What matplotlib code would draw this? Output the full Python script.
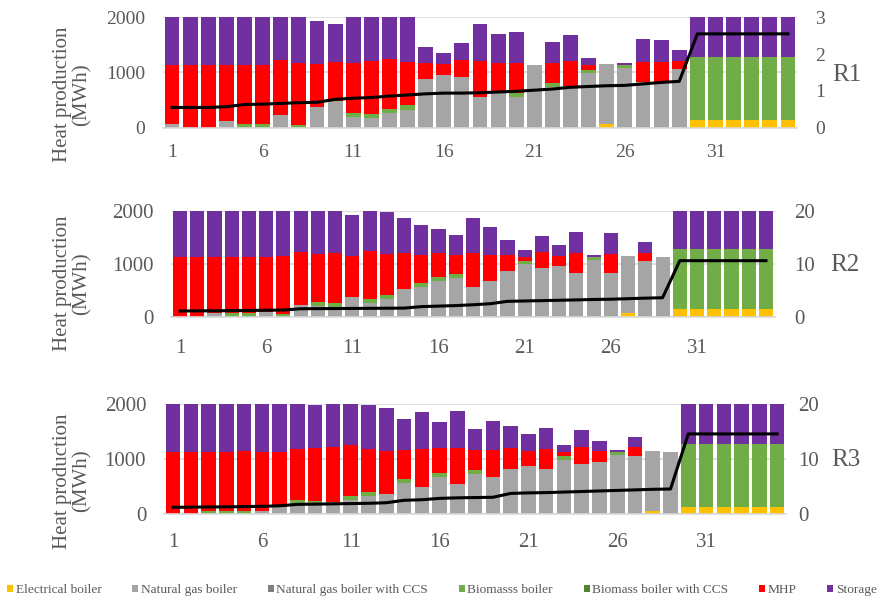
import matplotlib
matplotlib.use("Agg")
import matplotlib.pyplot as plt
from matplotlib.patches import Patch
import numpy as np

days = list(range(1, 36))
xtick_labels = [1, 6, 11, 16, 21, 26, 31]

# ---------------- R1 ----------------
r1_elec = [0]*24 + [60] + [0]*4 + [140]*6
r1_ng = [60, 0, 0, 120, 0, 0, 230, 0, 370, 490, 190, 170, 260, 320, 875, 960, 920, 565, 665, 565,
         1135, 745, 710, 1000, 1090, 1090, 835, 835, 1065, 0, 0, 0, 0, 0, 0]
r1_ngccs = [0]*35
r1_bio = [0, 0, 0, 0, 60, 60, 0, 50, 0, 0, 70, 80, 80, 85, 0, 0, 0, 0, 0, 60,
          0, 60, 50, 50, 0, 45, 0, 0, 0, 1135, 1135, 1135, 1135, 1135, 1135]
r1_bioccs = [0]*35
r1_mhp = [1080, 1130, 1135, 1015, 1075, 1075, 995, 1120, 780, 700, 920, 950, 910, 780, 295, 190, 300, 635, 505, 545,
          0, 365, 440, 85, 0, 0, 355, 355, 150, 0, 0, 0, 0, 0, 0]
r1_storage = [860, 870, 865, 865, 865, 865, 775, 830, 790, 680, 820, 800, 750, 815, 290, 195, 315, 680, 525, 565,
              0, 375, 475, 120, 0, 35, 410, 395, 195, 725, 725, 725, 725, 725, 725]
r1_line = [0.55, 0.55, 0.55, 0.57, 0.63, 0.64, 0.66, 0.68, 0.69, 0.77, 0.80, 0.82, 0.86, 0.89, 0.92, 0.94, 0.94, 0.95,
           0.97, 0.99, 1.02, 1.05, 1.10, 1.12, 1.14, 1.15, 1.19, 1.23, 1.26, 2.55, 2.55, 2.55, 2.55, 2.55, 2.55]

# ---------------- R2 ----------------
r2_elec = [0]*26 + [65] + [0]*2 + [140]*6
r2_ng = [0, 0, 75, 0, 0, 95, 0, 220, 200, 190, 365, 265, 335, 515, 565, 680, 735, 565, 680, 870,
         995, 910, 955, 820, 1070, 830, 1080, 1055, 1130, 0, 0, 0, 0, 0, 0]
r2_ngccs = [0]*35
r2_bio = [0, 0, 0, 65, 65, 0, 50, 0, 70, 60, 0, 75, 75, 0, 75, 75, 65, 0, 0, 0,
          55, 0, 0, 0, 60, 0, 0, 0, 0, 1140, 1140, 1140, 1140, 1140, 1140]
r2_bioccs = [0]*35
r2_mhp = [1130, 1130, 1055, 1060, 1060, 1035, 1100, 1005, 905, 945, 785, 905, 765, 680, 520, 440, 355, 630, 485, 290,
          80, 310, 195, 375, 0, 345, 0, 155, 0, 0, 0, 0, 0, 0, 0]
r2_storage = [870, 870, 870, 875, 875, 870, 850, 775, 825, 805, 775, 755, 800, 665, 565, 465, 390, 675, 535, 295,
              125, 310, 195, 400, 30, 395, 0, 195, 0, 720, 720, 720, 720, 720, 720]
r2_line = [1.07, 1.10, 1.12, 1.15, 1.18, 1.22, 1.26, 1.50, 1.52, 1.54, 1.56, 1.58, 1.60, 1.62, 1.90, 2.00, 2.10, 2.25,
           2.45, 2.90, 2.97, 3.03, 3.10, 3.17, 3.25, 3.30, 3.40, 3.50, 3.58, 10.57, 10.57, 10.57, 10.57, 10.57, 10.57]

# ---------------- R3 ----------------
r3_elec = [0]*27 + [50] + [0] + [130]*6
r3_ng = [0, 0, 0, 0, 0, 60, 120, 195, 180, 215, 255, 330, 365, 560, 500, 675, 545, 730, 680, 815,
         870, 825, 985, 905, 955, 1070, 1060, 1095, 1125, 0, 0, 0, 0, 0, 0]
r3_ngccs = [0]*35
r3_bio = [0, 0, 60, 60, 55, 0, 0, 60, 55, 0, 80, 65, 0, 80, 0, 80, 0, 70, 0, 0,
          0, 0, 65, 0, 0, 55, 0, 0, 0, 1140, 1140, 1140, 1140, 1140, 1140]
r3_bioccs = [0]*35
r3_mhp = [1125, 1135, 1065, 1065, 1100, 1075, 1015, 925, 960, 1015, 915, 785, 785, 530, 685, 445, 660, 360, 485, 385,
          285, 360, 80, 310, 195, 0, 155, 0, 0, 0, 0, 0, 0, 0, 0]
r3_storage = [875, 865, 875, 875, 845, 865, 865, 820, 800, 770, 750, 810, 790, 560, 680, 470, 675, 390, 530, 400,
              300, 390, 120, 315, 190, 40, 195, 0, 0, 730, 730, 730, 730, 730, 730]
r3_line = [1.22, 1.25, 1.28, 1.30, 1.35, 1.40, 1.50, 1.76, 1.80, 1.85, 1.90, 1.95, 2.05, 2.50, 2.60, 2.85, 2.95, 3.00,
           3.05, 3.75, 3.85, 3.90, 4.00, 4.10, 4.20, 4.30, 4.40, 4.50, 4.56, 14.6, 14.6, 14.6, 14.6, 14.6, 14.6]

series_names = ["Electrical boiler", "Natural gas boiler", "Natural gas boiler with CCS",
                "Biomasss boiler", "Biomass boiler with CCS", "MHP", "Storage"]
colors = ["#FFC000", "#A5A5A5", "#7F7F7F", "#70AD47", "#548235", "#FF0000", "#7030A0"]

panels = [
    dict(series=[r1_elec, r1_ng, r1_ngccs, r1_bio, r1_bioccs, r1_mhp, r1_storage], line=r1_line,
         rmax=3, rticks=[0, 1, 2, 3], name="R1", px=(163, 797, 17.3, 127.7), fs=14, rlab=(847, 75),
         lpad=13, rpad=13, xpad=12),
    dict(series=[r2_elec, r2_ng, r2_ngccs, r2_bio, r2_bioccs, r2_mhp, r2_storage], line=r2_line,
         rmax=20, rticks=[0, 10, 20], name="R2", px=(171.4, 774.6, 210.7, 316.7), fs=15, rlab=(845, 265),
         lpad=13, rpad=14, xpad=16),
    dict(series=[r3_elec, r3_ng, r3_ngccs, r3_bio, r3_bioccs, r3_mhp, r3_storage], line=r3_line,
         rmax=20, rticks=[0, 10, 20], name="R3", px=(164.2, 786, 404.3, 514), fs=15, rlab=(846, 460),
         lpad=13, rpad=9, xpad=14),
]

W, H = 885, 602
plt.rcParams['font.family'] = ['Liberation Serif', 'DejaVu Serif']
tc = "#595959"
fig = plt.figure(figsize=(W/100, H/100), dpi=100)

for p in panels:
    x0, x1, ytop, ybot = p["px"]
    ax = fig.add_axes([x0/W, 1-ybot/H, (x1-x0)/W, (ybot-ytop)/H])
    bottom = np.zeros(35)
    for vals, c in zip(p["series"], colors):
        v = np.array(vals, dtype=float)
        ax.bar(days, v, bottom=bottom, width=0.82, color=c, linewidth=0, zorder=2)
        bottom += v
    ax.set_xlim(0.5, 35.5)
    ax.set_ylim(0, 2000)
    ax.set_yticks([0, 1000, 2000])
    ax.set_xticks(xtick_labels)
    ax.set_xticklabels([str(t) for t in xtick_labels])
    ax.grid(axis='y', color="#D9D9D9", linewidth=1.2, zorder=0)
    ax.set_axisbelow(True)
    for s in ["left", "right", "top"]:
        ax.spines[s].set_visible(False)
    ax.spines["bottom"].set_color("#D9D9D9")
    ax.spines["bottom"].set_linewidth(1.2)
    ax.tick_params(axis='both', length=0, colors=tc, labelsize=p["fs"])
    ax.tick_params(axis='y', pad=p["lpad"])
    ax.tick_params(axis='x', pad=p["xpad"])

    ax2 = ax.twinx()
    ax2.plot(days, p["line"], color="black", linewidth=2.2, zorder=5)
    ax2.set_ylim(0, p["rmax"])
    ax2.set_yticks(p["rticks"])
    for s in ["left", "right", "top", "bottom"]:
        ax2.spines[s].set_visible(False)
    ax2.tick_params(axis='y', length=0, colors=tc, labelsize=p["fs"], pad=p["rpad"])

    fig.text(p["rlab"][0]/W, 1-p["rlab"][1]/H, p["name"], ha='center', va='center',
             fontsize=18, color=tc)
    fig.text(72/W, 1-(ybot-33)/H, "Heat production\n(MWh)", rotation=90, ha='center', va='center',
             multialignment='center', fontsize=15, color=tc, linespacing=1.0)

handles = [Patch(facecolor=c, edgecolor='none') for c in colors]
fig.legend(handles, series_names, loc='center', bbox_to_anchor=(442/W, 1-590/H), ncol=7,
           frameon=False, fontsize=9.6, handlelength=0.45, handleheight=0.45, handletextpad=0.2,
           columnspacing=2.3, labelcolor=tc, borderaxespad=0, borderpad=0)

fig.savefig("out.png", dpi=100)
